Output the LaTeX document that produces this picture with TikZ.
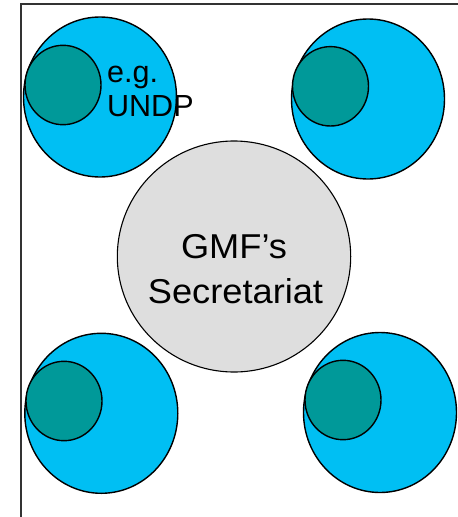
\documentclass[tikz,border=0pt]{standalone}
\usepackage{fontspec}
\setmainfont{Liberation Sans}
\definecolor{orgblue}{HTML}{00BFF3}
\definecolor{orgteal}{HTML}{009999}
\definecolor{secgray}{HTML}{DEDEDE}
\begin{document}
\begin{tikzpicture}[x=1pt, y=-1pt,
    outer/.style={fill=orgblue, line width=1.4pt},
    inner/.style={fill=orgteal, line width=1.4pt},
    label/.style={inner sep=0pt, font=\fontsize{30.5}{35}\selectfont},
    title/.style={inner sep=0pt, anchor=base, xscale=1.05, font=\fontsize{34.5}{45}\selectfont}]
\useasboundingbox (0,0) rectangle (458,517);
\draw[line width=1.3pt, black!80] (21,517) -- (21,4) -- (458,4);
% secretariat in the middle
\filldraw[fill=secgray, line width=1.1pt] (234,256.5) ellipse (116.7pt and 115.5pt);
\node[title] (gmf) at (234,258.3) {GMF’s};
\node[title] (secr) at (235.5,303.3) {Secretariat};
% four organisations, each with its own unit
\filldraw[outer] (100,97) ellipse (76.5pt and 80pt);
\filldraw[inner] (63,85) ellipse (38pt and 39.7pt);
\filldraw[outer] (368,99) ellipse (76.5pt and 80pt);
\filldraw[inner] (330.5,86.3) ellipse (38pt and 39.7pt);
\filldraw[outer] (101.3,413.3) ellipse (76.5pt and 80pt);
\filldraw[inner] (64,401) ellipse (38pt and 39.7pt);
\filldraw[outer] (380,412.5) ellipse (76.5pt and 80pt);
\filldraw[inner] (343,400) ellipse (38pt and 39.7pt);
\node[label, anchor=base west] (eg) at (107,82) {e.g.};
\node[label, anchor=base west] (undp) at (107,116.7) {UNDP};
\end{tikzpicture}
\end{document}
